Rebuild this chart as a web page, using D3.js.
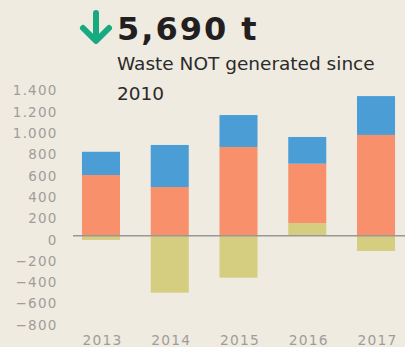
<!DOCTYPE html>
<html>
<head>
<meta charset="utf-8">
<script src="https://cdn.jsdelivr.net/npm/d3@7/dist/d3.min.js"></script>
<style>
  html, body { margin: 0; padding: 0; background: #efebe1; }
  svg { display: block; }
</style>
</head>
<body>
<svg id="chart" width="405" height="347"></svg>
<script>
// Waste generated vs. avoided per year (tonnes)
const years = ["2013", "2014", "2015", "2016", "2017"];
const baseValues = [-40, -535, -394, 119, -144];   // olive segment
const midValues = [570, 457, 833, 557, 946];       // orange segment
const topValues = [218, 395, 300, 251, 365];       // blue segment
const yTicks = [-800, -600, -400, -200, 0, 200, 400, 600, 800, 1000, 1200, 1400];
const headline = "5,690 t";
const subtitleLines = ["Waste NOT generated since", "2010"];

const colors = { base: "#d5cd80", mid: "#f7906b", top: "#4b9ed5" };

const svg = d3.select("#chart");
const W = 405, H = 347;

const x = d3.scaleBand()
  .domain(years)
  .range([66.6, 410.4])
  .paddingInner(0.447)
  .paddingOuter(0.2235);

const y = d3.scaleLinear()
  .domain([-800, 1400])
  .range([320.9, 86.6]);

// Build stacked segments: olive at bottom (may be negative), then orange, then blue
const segments = [];
years.forEach((yr, i) => {
  const b = baseValues[i];
  const start = b > 0 ? b : 0;
  segments.push({ yr, y0: 0, y1: b, c: colors.base });
  segments.push({ yr, y0: start, y1: start + midValues[i], c: colors.mid });
  segments.push({ yr, y0: start + midValues[i], y1: start + midValues[i] + topValues[i], c: colors.top });
});

svg.append("g")
  .selectAll("rect")
  .data(segments)
  .join("rect")
  .attr("x", d => x(d.yr))
  .attr("width", x.bandwidth())
  .attr("y", d => y(Math.max(d.y0, d.y1)))
  .attr("height", d => Math.abs(y(d.y0) - y(d.y1)))
  .attr("fill", d => d.c);

// Zero baseline
svg.append("line")
  .attr("x1", 73).attr("x2", W)
  .attr("y1", y(0)).attr("y2", y(0))
  .attr("stroke", "#9a9895")
  .attr("stroke-width", 1.6);

// Y axis labels
const fmt = d3.formatLocale({ decimal: ",", thousands: ".", grouping: [3], currency: ["", ""] }).format(",d");
const yAxis = d3.axisLeft(y).tickValues(yTicks).tickFormat(fmt).tickSize(0).tickPadding(0);
const gy = svg.append("g").attr("transform", "translate(57.5,0)").call(yAxis);
gy.select(".domain").remove();
gy.selectAll("text")
  .attr("fill", "#a09d99")
  .attr("font-family", "DejaVu Sans, sans-serif")
  .attr("font-size", 13.5)
  .attr("letter-spacing", 1.2)
  .attr("dy", "0.62em");

// X axis labels
const xAxis = d3.axisBottom(x).tickSize(0).tickPadding(0);
const gx = svg.append("g").attr("transform", "translate(0,333)").call(xAxis);
gx.select(".domain").remove();
gx.selectAll("text")
  .attr("fill", "#a09d99")
  .attr("font-family", "DejaVu Sans, sans-serif")
  .attr("font-size", 13.8)
  .attr("letter-spacing", 1.2)
  .attr("dy", "0.86em")
  .attr("dx", "1.5");

// Headline arrow
svg.append("path")
  .attr("d", "M96,13 L96,40 M83,28 L96,41 L109,28")
  .attr("fill", "none")
  .attr("stroke", "#17a97f")
  .attr("stroke-width", 6)
  .attr("stroke-linecap", "round")
  .attr("stroke-linejoin", "round");

svg.append("text")
  .attr("x", 117).attr("y", 40)
  .attr("font-family", "DejaVu Sans, sans-serif")
  .attr("font-weight", "bold")
  .attr("font-size", 32)
  .attr("letter-spacing", 2)
  .attr("fill", "#231f20")
  .text(headline);

svg.append("g")
  .selectAll("text")
  .data(subtitleLines)
  .join("text")
  .attr("x", 117)
  .attr("y", (d, i) => 70 + i * 30)
  .attr("font-family", "DejaVu Sans, sans-serif")
  .attr("font-size", 18.5)
  .attr("fill", "#2b2a29")
  .text(d => d);
</script>
</body>
</html>
